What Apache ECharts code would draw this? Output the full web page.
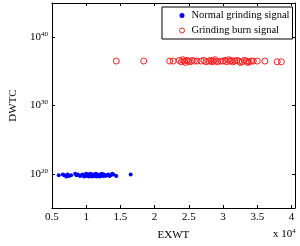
<!DOCTYPE html>
<html><head><meta charset="utf-8">
<script src="https://cdn.jsdelivr.net/npm/echarts@6/dist/echarts.min.js"></script>
<style>html,body{margin:0;padding:0;background:#fff}#c{width:300px;height:246px}</style>
</head><body><div id="c"></div>
<script>
// x in units of 10^4, y as log10(DWTC)
const normalX = [0.60,0.66,0.68,0.71,0.73,0.75,0.78,0.84,0.86,0.88,0.91,0.93,0.95,0.97,0.99,1.00,1.01,1.02,1.03,1.04,1.05,1.06,1.07,1.08,1.09,1.10,1.11,1.12,1.13,1.14,1.15,1.16,1.17,1.18,1.19,1.20,1.21,1.22,1.23,1.24,1.25,1.26,1.28,1.30,1.32,1.34,1.36,1.38,1.40,1.44,1.65];
const normalExp = [19.8,19.9,19.8,19.6,19.9,19.7,19.8,20.0,19.8,19.9,19.7,19.8,19.9,19.6,19.8,20.0,19.7,19.8,19.9,19.6,19.8,20.0,19.7,19.9,19.6,19.8,19.9,19.7,19.8,20.0,19.6,19.8,19.9,19.7,19.8,19.6,19.9,19.8,20.0,19.7,19.8,19.9,19.7,19.8,19.9,19.7,19.8,20.0,19.9,19.7,19.9];
const burnX = [1.44,1.84,2.22,2.27,2.36,2.39,2.41,2.43,2.45,2.47,2.49,2.52,2.55,2.58,2.62,2.68,2.72,2.75,2.79,2.82,2.84,2.86,2.88,2.90,2.92,2.97,3.00,3.03,3.05,3.08,3.10,3.12,3.14,3.17,3.20,3.23,3.25,3.28,3.31,3.34,3.36,3.38,3.41,3.44,3.50,3.61,3.79,3.85];
const burnExp = [36.5,36.5,36.5,36.5,36.6,36.4,36.7,36.5,36.3,36.6,36.5,36.4,36.6,36.5,36.5,36.5,36.6,36.4,36.5,36.6,36.4,36.5,36.7,36.5,36.4,36.5,36.5,36.6,36.4,36.7,36.5,36.6,36.4,36.5,36.6,36.5,36.3,36.4,36.6,36.5,36.3,36.4,36.5,36.5,36.5,36.5,36.4,36.4];
const xTicks = [0.5,1,1.5,2,2.5,3,3.5,4];
const yTickExp = [20,30,40];
const seriesNames = ['Normal grinding signal','Grinding burn signal'];

const F = 'Liberation Serif';
const chart = echarts.init(document.getElementById('c'), null, {renderer:'canvas'});
const zip = (a,b)=>a.map((v,i)=>[v,b[i]]);
const axisBase = {
  axisLine:{show:true,onZero:false,lineStyle:{color:'#000',width:1}},
  splitLine:{show:false}
};
chart.setOption({
  animation:false,
  backgroundColor:'#fff',
  grid:{left:37,right:5,top:3,bottom:34,containLabel:false},
  xAxis:[
    Object.assign({type:'value',min:0.5,max:4.05,interval:0.5,position:'bottom',
      name:'EXWT',nameLocation:'middle',nameGap:22,
      nameTextStyle:{fontFamily:F,fontSize:11,color:'#000'},
      axisTick:{inside:true,length:3,lineStyle:{color:'#000'},customValues:xTicks},
      axisLabel:{fontFamily:F,fontSize:11,color:'#000',margin:4,customValues:xTicks,formatter:v=>String(v)}},axisBase),
    Object.assign({type:'value',min:0.5,max:4.05,interval:0.5,position:'top',
      axisTick:{inside:true,length:3,lineStyle:{color:'#000'},customValues:xTicks},
      axisLabel:{show:false}},axisBase)
  ],
  yAxis:[
    Object.assign({type:'value',min:15,max:45,position:'left',
      name:'DWTC',nameLocation:'middle',nameGap:27,nameRotate:90,
      nameTextStyle:{fontFamily:F,fontSize:11,color:'#000'},
      axisTick:{inside:true,length:3,lineStyle:{color:'#000'},customValues:yTickExp},
      axisLabel:{customValues:yTickExp,margin:4,formatter:v=>'{b|10}{s|'+v+'}',
        rich:{b:{fontFamily:F,fontSize:11,color:'#000'},s:{fontFamily:F,fontSize:7,color:'#000',verticalAlign:'top',padding:[0,0,6,0]}}}},axisBase),
    Object.assign({type:'value',min:15,max:45,position:'right',
      axisTick:{inside:true,length:3,lineStyle:{color:'#000'},customValues:yTickExp},
      axisLabel:{show:false}},axisBase)
  ],
  legend:{
    left:162,top:7,orient:'vertical',
    padding:[3,3,3,17],itemGap:4,itemWidth:5,itemHeight:5,
    borderColor:'#000',borderWidth:1,backgroundColor:'#fff',
    textStyle:{fontFamily:F,fontSize:10.5,color:'#000',padding:[0,0,0,2]},
    data:[{name:seriesNames[0],icon:'circle'},
          {name:seriesNames[1],icon:'circle',itemStyle:{color:'#fff',borderColor:'#ff2020',borderWidth:1}}]
  },
  graphic:[{type:'text',left:273,top:228,style:{text:'{b|x 10}{s|4}',rich:{b:{fontFamily:F,fontSize:11,fill:'#000'},s:{fontFamily:F,fontSize:7,fill:'#000',verticalAlign:'top',padding:[0,0,6,0]}}}}],
  series:[
    {name:seriesNames[0],type:'scatter',xAxisIndex:0,yAxisIndex:0,symbol:'circle',symbolSize:4,
      itemStyle:{color:'#0000ff',opacity:1},data:zip(normalX,normalExp),z:3},
    {name:seriesNames[1],type:'scatter',xAxisIndex:0,yAxisIndex:0,symbol:'circle',symbolSize:6,
      itemStyle:{color:'rgba(255,255,255,0)',borderColor:'#ff2020',borderWidth:1,opacity:1},data:zip(burnX,burnExp),z:3}
  ]
});
</script></body></html>
